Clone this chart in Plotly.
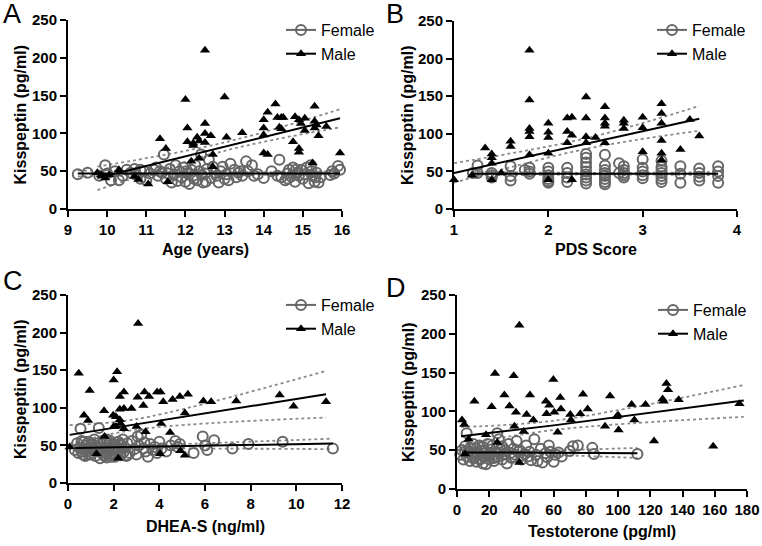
import plotly.graph_objects as go

# ---------------- Panel A: Age ----------------
a_f_x = [9.25, 9.5, 9.8, 9.95, 10.0, 10.1, 10.2, 10.3, 10.4, 10.5, 10.6, 10.7, 10.75, 10.85, 10.95, 11.0, 11.1, 11.2,
         11.3, 11.4, 11.45, 11.5, 11.6, 11.7, 11.75, 11.8, 11.85, 11.9, 11.95, 12.0, 12.05, 12.1, 12.15, 12.2, 12.25,
         12.3, 12.35, 12.4, 12.45, 12.5, 12.55, 12.6, 12.65, 12.7, 12.8, 12.85, 12.9, 12.95, 13.0, 13.05, 13.15, 13.25,
         13.3, 13.35, 13.45, 13.55, 13.6, 13.7, 13.75, 13.85, 14.0, 14.2, 14.35, 14.4, 14.45, 14.55, 14.6, 14.65, 14.7,
         14.75, 14.8, 14.85, 14.9, 14.95, 15.0, 15.05, 15.1, 15.15, 15.2, 15.25, 15.3, 15.35, 15.4, 15.45, 15.7, 15.75,
         15.8, 15.9, 15.95, 11.55, 11.65, 12.02, 12.22, 12.42, 12.52, 12.75, 13.1, 13.4, 14.62, 14.82, 15.22, 15.32,
         10.85, 11.25, 11.35]
a_f_y = [46, 48, 44, 58, 47, 38, 50, 38, 44, 52, 48, 53, 45, 40, 50, 38, 47, 52,
         44, 48, 72, 40, 53, 45, 58, 37, 50, 42, 55, 36, 47, 33, 52, 44, 58,
         38, 50, 72, 35, 47, 53, 65, 41, 56, 44, 35, 50, 56, 40, 46, 60, 52,
         42, 48, 44, 63, 50, 58, 44, 46, 41, 50, 44, 65, 42, 38, 47, 52, 43,
         55, 36, 48, 44, 52, 40, 46, 55, 34, 58, 44, 36, 48, 35, 42, 45, 50,
         47, 57, 52, 47, 35, 50, 40, 45, 36, 48, 38, 50, 40, 52, 50, 42,
         52, 55, 50]
a_m_x = [9.75, 9.85, 9.95, 10.05, 10.3, 10.7, 10.8, 11.05, 11.35, 11.5, 11.55, 12.0, 12.05, 12.05, 12.15, 12.2, 12.2,
         12.3, 12.35, 12.35, 12.5, 12.5, 12.5, 12.5, 12.65, 12.7, 12.7, 13.0, 13.05, 13.45, 14.0, 14.0, 14.0,
         14.0, 14.1, 14.1, 14.3, 14.35, 14.45, 14.5, 14.4, 14.45, 14.75, 14.8, 14.9, 14.95, 14.9, 14.9, 15.05,
         15.05, 15.3, 15.3, 15.35, 15.3, 15.4, 15.6, 15.95, 15.25]
a_m_y = [48, 45, 41, 45, 52, 43, 39, 33, 93, 80, 36, 145, 107, 89, 63, 87, 84,
         95, 90, 67, 113, 100, 88, 210, 97, 72, 56, 148, 95, 101, 118, 107, 98,
         74, 128, 72, 139, 121, 121, 121, 108, 106, 89, 122, 118, 113, 80, 75, 120,
         104, 136, 116, 111, 107, 97, 109, 74, 61]
# fitted lines: [start, middle, end]
a_f_fit_x = [9.25, 12.6, 15.95]
a_f_fit_y = [47, 47, 47]
a_f_ci_lo = [43, 45.5, 44]
a_f_ci_hi = [51, 48.5, 50]
a_m_fit_x = [9.75, 13.0, 15.95]
a_m_fit_y = [41, 82.5, 120]
a_m_ci_lo = [25, 77, 108]
a_m_ci_hi = [56, 88, 132]

# ---------------- Panel B: PDS score ----------------
b_f_x = [1.2, 1.25, 1.25, 1.4, 1.4, 1.4, 1.6, 1.6, 1.6, 1.75, 1.8, 1.8, 1.8,
         2.0, 2.0, 2.0, 2.0, 2.0, 2.0, 2.2, 2.2, 2.2, 2.2,
         2.4, 2.4, 2.4, 2.4, 2.4, 2.4, 2.4, 2.4, 2.4,
         2.6, 2.6, 2.6, 2.6, 2.6, 2.6, 2.6, 2.6, 2.75, 2.75,
         2.8, 2.8, 2.8, 2.8, 2.8, 3.0, 3.0, 3.0, 3.0, 3.0,
         3.2, 3.2, 3.2, 3.2, 3.2, 3.2, 3.2, 3.4, 3.4, 3.4,
         3.6, 3.6, 3.6, 3.6, 3.8, 3.8, 3.8, 3.8]
b_f_y = [48, 58, 48, 45, 42, 48, 57, 44, 38, 52, 55, 50, 47,
         55, 50, 45, 40, 35, 37, 55, 48, 42, 36,
         73, 68, 62, 56, 50, 46, 42, 38, 34,
         72, 58, 52, 48, 44, 40, 36, 33, 61, 48,
         57, 52, 48, 45, 42, 66, 55, 50, 45, 41,
         64, 56, 52, 48, 44, 40, 36, 57, 47, 35,
         54, 48, 43, 38, 57, 50, 44, 35]
b_m_x = [1.0, 1.19, 1.33, 1.4, 1.4, 1.4, 1.4, 1.5, 1.6, 1.6, 1.8, 1.8, 1.8, 1.8, 1.8, 1.8,
         2.0, 2.0, 2.0, 2.0, 2.0, 2.2, 2.2, 2.2, 2.25, 2.25, 2.25, 2.4, 2.4, 2.4, 2.4, 2.5,
         2.6, 2.6, 2.6, 2.6, 2.6, 2.8, 2.8, 2.8, 3.0, 3.0, 3.0, 3.2, 3.2, 3.2, 3.2, 3.2, 3.2,
         3.4, 3.5, 3.6]
b_m_y = [39, 45, 81, 73, 68, 61, 39, 48, 90, 83, 211, 145, 107, 103, 96, 72,
         114, 102, 95, 74, 39, 121, 103, 88, 122, 98, 39, 149, 121, 96, 88, 95,
         136, 121, 114, 110, 88, 118, 114, 107, 122, 108, 76, 140, 127, 114, 91, 74, 65,
         79, 119, 97]
b_f_fit_x = [1.2, 2.5, 3.8]
b_f_fit_y = [47, 47, 47]
b_f_ci_lo = [44.5, 46, 45]
b_f_ci_hi = [49.5, 48, 49]
b_m_fit_x = [1.0, 2.4, 3.6]
b_m_fit_y = [48, 87, 120]
b_m_ci_lo = [35, 80, 104]
b_m_ci_hi = [61, 94, 137]

# ---------------- Panel C: DHEA-S ----------------
c_f_x = [0.3, 0.4, 0.45, 0.5, 0.55, 0.6, 0.65, 0.7, 0.75, 0.8, 0.85, 0.9, 0.95, 1.0, 1.05, 1.1, 1.15, 1.2,
         1.25, 1.3, 1.35, 1.4, 1.45, 1.5, 1.55, 1.6, 1.65, 1.7, 1.75, 1.8, 1.85, 1.9, 1.95, 2.0, 2.05, 2.1,
         2.15, 2.2, 2.25, 2.3, 2.35, 2.4, 2.45, 2.5, 2.55, 2.6, 2.7, 2.8, 2.9, 3.0, 3.1, 3.2, 3.3, 3.4, 3.5,
         3.6, 3.7, 3.8, 3.9, 4.0, 4.1, 4.3, 4.5, 4.7, 4.8, 4.9, 5.5, 5.9, 6.0, 6.1, 6.4, 7.2, 7.9, 9.4, 11.6,
         0.7, 0.9, 1.1, 1.3, 1.5, 1.7, 1.9, 2.1, 2.3, 0.6, 1.0, 1.4, 1.6, 1.8, 2.0, 2.2, 2.6, 3.05, 3.35]
c_f_y = [44, 53, 40, 47, 72, 56, 38, 45, 36, 50, 42, 55, 47, 38, 52, 44, 58, 36,
         48, 42, 73, 33, 52, 45, 38, 57, 47, 34, 50, 43, 56, 38, 46, 52, 35, 48,
         41, 55, 44, 37, 50, 58, 42, 47, 36, 53, 40, 56, 45, 38, 50, 64, 46, 42, 35,
         52, 44, 48, 40, 55, 46, 42, 50, 56, 48, 52, 40, 62, 50, 44, 57, 46, 52, 55, 46,
         55, 38, 47, 53, 41, 58, 35, 44, 52, 42, 50, 46, 36, 53, 40, 47, 37, 62, 54]
c_m_x = [0.07, 0.47, 0.95, 0.7, 0.88, 1.58, 2.0, 2.15, 1.98, 2.1, 2.27, 2.27, 2.45, 2.27, 2.45, 2.0, 2.1,
         2.3, 2.45, 2.78, 3.0, 3.05, 3.07, 3.3, 3.35, 3.55, 3.9, 4.05, 4.17, 4.08, 4.58, 4.9, 5.25, 5.12,
         5.93, 6.27, 7.37, 9.27, 9.88, 11.3, 1.25, 3.4, 4.47, 5.12, 4.92, 4.03, 1.6, 2.2]
c_m_y = [48, 146, 123, 90, 83, 96, 137, 148, 90, 88, 84, 115, 121, 98, 99, 75, 75,
         79, 72, 99, 75, 114, 212, 103, 121, 115, 121, 121, 108, 79, 111, 115, 118, 93,
         109, 108, 109, 117, 102, 108, 39, 68, 67, 37, 43, 39, 62, 33]
c_f_fit_x = [0.3, 2.2, 11.6]
c_f_fit_y = [46.5, 47.5, 52.5]
c_f_ci_lo = [43.5, 45.5, 45]
c_f_ci_hi = [49.5, 49.5, 59]
c_m_fit_x = [0.07, 3.0, 11.3]
c_m_fit_y = [64, 78, 118]
c_m_ci_lo = [52, 71, 87]
c_m_ci_hi = [77, 85, 149]

# ---------------- Panel D: Testosterone ----------------
d_f_x = [2, 3, 4, 5, 6, 6, 7, 8, 8, 9, 10, 10, 11, 12, 12, 13, 14, 14, 15, 16, 16, 17, 18, 18, 19, 20, 20,
         21, 22, 22, 23, 24, 25, 25, 26, 27, 28, 28, 29, 30, 31, 32, 33, 34, 35, 36, 37, 38, 40, 42, 43, 44,
         45, 46, 48, 49, 50, 52, 53, 55, 56, 57, 58, 60, 61, 63, 65, 70, 72, 75, 84, 85, 112,
         5, 9, 11, 13, 15, 17, 19, 21, 23, 27, 30, 34, 39, 41]
d_f_y = [44, 50, 38, 55, 72, 42, 48, 36, 53, 45, 40, 58, 47, 35, 52, 44, 56, 38, 49, 33, 54, 42, 47, 32, 58,
         45, 38, 51, 43, 56, 36, 48, 72, 41, 64, 47, 38, 55, 44, 50, 33, 58, 46, 40, 52, 44, 62, 48, 38, 45,
         56, 42, 48, 37, 64, 44, 36, 52, 34, 46, 41, 56, 48, 35, 44, 47, 42, 49, 55, 56, 53, 45, 45,
         48, 52, 42, 46, 39, 50, 43, 47, 40, 51, 45, 41, 50, 43]
d_m_x = [3.1, 4.5, 10.8, 21.5, 23.6, 29.4, 32.6, 35.2, 36.6, 35.6, 38.7, 41.4, 43.2, 45.3, 47.4, 55.2, 57.3, 55.6,
         59.8, 60.4, 62.5, 64.1, 64.5, 70.3, 70.7, 78.2, 76.5, 81.1, 91.9, 95, 99, 100, 100.3, 108.4, 110.1,
         117, 122.3, 127.6, 128.3, 130, 131, 137.6, 159, 175.3, 7.2, 38.7, 5, 18, 25]
d_m_y = [89, 83, 113, 106, 149, 121, 107, 146, 99, 81, 211, 74, 96, 121, 89, 113, 108, 97,
         141, 99, 73, 118, 103, 96, 89, 122, 97, 103, 81, 120, 93, 95, 76, 109, 89,
         109, 62, 116, 113, 136, 128, 115, 55, 110, 64, 34, 45, 70, 60]
d_f_fit_x = [3, 30, 112]
d_f_fit_y = [47, 47, 46]
d_f_ci_lo = [43, 45, 40]
d_f_ci_hi = [51, 49, 53]
d_m_fit_x = [2.5, 60, 178]
d_m_fit_y = [68, 82, 114]
d_m_ci_lo = [56, 76, 93]
d_m_ci_hi = [80, 88, 134]

panels = [
    dict(fx=a_f_x, fy=a_f_y, mx=a_m_x, my=a_m_y, xr=[9, 16], dt=1, title="Age (years)", letter="A",
         ff=(a_f_fit_x, a_f_fit_y, a_f_ci_lo, a_f_ci_hi), mf=(a_m_fit_x, a_m_fit_y, a_m_ci_lo, a_m_ci_hi)),
    dict(fx=b_f_x, fy=b_f_y, mx=b_m_x, my=b_m_y, xr=[1, 4], dt=1, title="PDS Score", letter="B",
         ff=(b_f_fit_x, b_f_fit_y, b_f_ci_lo, b_f_ci_hi), mf=(b_m_fit_x, b_m_fit_y, b_m_ci_lo, b_m_ci_hi)),
    dict(fx=c_f_x, fy=c_f_y, mx=c_m_x, my=c_m_y, xr=[0, 12], dt=2, title="DHEA-S (ng/ml)", letter="C",
         ff=(c_f_fit_x, c_f_fit_y, c_f_ci_lo, c_f_ci_hi), mf=(c_m_fit_x, c_m_fit_y, c_m_ci_lo, c_m_ci_hi)),
    dict(fx=d_f_x, fy=d_f_y, mx=d_m_x, my=d_m_y, xr=[0, 180], dt=20, title="Testoterone (pg/ml)", letter="D",
         ff=(d_f_fit_x, d_f_fit_y, d_f_ci_lo, d_f_ci_hi), mf=(d_m_fit_x, d_m_fit_y, d_m_ci_lo, d_m_ci_hi)),
]

W, H = 762, 546
# pixel boxes: (x_left, x_right, y_top(250), y_bottom(0))
boxes = [(68, 342, 20, 209), (454, 737, 21, 209), (68, 342, 295, 483), (457, 747, 295, 489)]
letter_pos = [(1, 14), (384, 14), (1, 281), (384, 288)]
legend_pos = [(281, 13), (652, 13), (281, 288), (653, 293)]
xtitle_y = [250, 250, 526, 531]      # pixel centre of x-axis titles
ytitle_x = [20, 407, 20, 408]        # pixel centre of y-axis titles

FEMALE = "#666666"
MALE = "#000000"
CI = "#8a8a8a"
FONT = "Liberation Sans, Arial, sans-serif"

fig = go.Figure()
layout = dict(width=W, height=H, margin=dict(l=0, r=0, t=0, b=0),
              plot_bgcolor="white", paper_bgcolor="white",
              font=dict(family=FONT, color="black"),
              showlegend=True, annotations=[])

for i, p in enumerate(panels):
    k = "" if i == 0 else str(i + 1)
    xa, ya = "x" + k, "y" + k
    lg = "legend" + k
    xl, xr_, yt, yb = boxes[i]
    for fx_, fy_, lo, hi in (p["ff"], p["mf"]):
        for band in (lo, hi):
            fig.add_trace(go.Scatter(x=fx_, y=band, mode="lines", line=dict(color=CI, width=1.8, dash="dot"),
                                     line_shape="spline", xaxis=xa, yaxis=ya, showlegend=False,
                                     hoverinfo="skip", cliponaxis=False))
    fig.add_trace(go.Scatter(x=p["fx"], y=p["fy"], mode="markers", xaxis=xa, yaxis=ya, showlegend=False,
                             cliponaxis=False,
                             marker=dict(symbol="circle-open", size=10, color=FEMALE, line=dict(width=2, color=FEMALE))))
    fig.add_trace(go.Scatter(x=p["mx"], y=p["my"], mode="markers", xaxis=xa, yaxis=ya, showlegend=False,
                             cliponaxis=False,
                             marker=dict(symbol="triangle-up", size=9, color=MALE)))
    for fx_, fy_, lo, hi in (p["ff"], p["mf"]):
        fig.add_trace(go.Scatter(x=fx_, y=fy_, mode="lines", line=dict(color="black", width=2),
                                 xaxis=xa, yaxis=ya, showlegend=False, hoverinfo="skip", cliponaxis=False))
    # legend entries
    fig.add_trace(go.Scatter(x=[None], y=[None], mode="lines+markers", name="Female", legend=lg,
                             xaxis=xa, yaxis=ya,
                             line=dict(color=FEMALE, width=2),
                             marker=dict(symbol="circle-open", size=10, color=FEMALE, line=dict(width=2, color=FEMALE))))
    fig.add_trace(go.Scatter(x=[None], y=[None], mode="lines+markers", name="Male", legend=lg,
                             xaxis=xa, yaxis=ya,
                             line=dict(color=MALE, width=2),
                             marker=dict(symbol="triangle-up", size=9, color=MALE)))

    axis_common = dict(showline=True, linecolor="black", linewidth=2, ticks="outside", ticklen=6,
                       tickwidth=2, tickcolor="black", showgrid=False, zeroline=False, automargin=False,
                       tickfont=dict(size=15, family=FONT, color="black"))
    layout["xaxis" + k] = dict(axis_common, domain=[xl / W, xr_ / W], range=p["xr"], dtick=p["dt"],
                               tick0=p["xr"][0], anchor=ya, autorange=False,
                               tickprefix="<b>", ticksuffix="</b>")
    layout["yaxis" + k] = dict(axis_common, domain=[1 - yb / H, 1 - yt / H], range=[0, 250], dtick=50,
                               anchor=xa, autorange=False, tickprefix="<b>", ticksuffix="</b>")
    # axis titles as annotations for exact placement
    layout["annotations"].append(dict(text="<b>" + p["title"] + "</b>", x=(xl + xr_) / 2 / W,
                                      y=1 - xtitle_y[i] / H, xref="paper", yref="paper",
                                      xanchor="center", yanchor="middle", showarrow=False,
                                      font=dict(size=16, family=FONT)))
    layout["annotations"].append(dict(text="<b>Kisspeptin (pg/ml)</b>", x=ytitle_x[i] / W,
                                      y=1 - (yt + yb) / 2 / H, xref="paper", yref="paper", textangle=-90,
                                      xanchor="center", yanchor="middle", showarrow=False,
                                      font=dict(size=16, family=FONT)))
    lx, ly = legend_pos[i]
    layout[lg] = dict(x=lx / W, y=1 - ly / H, xanchor="left", yanchor="top", bgcolor="rgba(0,0,0,0)",
                      font=dict(size=16, family=FONT), itemclick=False, tracegroupgap=0)
    tx, ty = letter_pos[i]
    layout["annotations"].append(dict(text=p["letter"], x=tx / W, y=1 - ty / H, xref="paper", yref="paper",
                                      xanchor="left", yanchor="middle", showarrow=False,
                                      font=dict(size=27, family=FONT)))

fig.update_layout(**layout)
fig.write_html("out.html", config={"displayModeBar": False},
               post_script="document.body.style.margin='0';document.body.style.overflow='hidden';")
